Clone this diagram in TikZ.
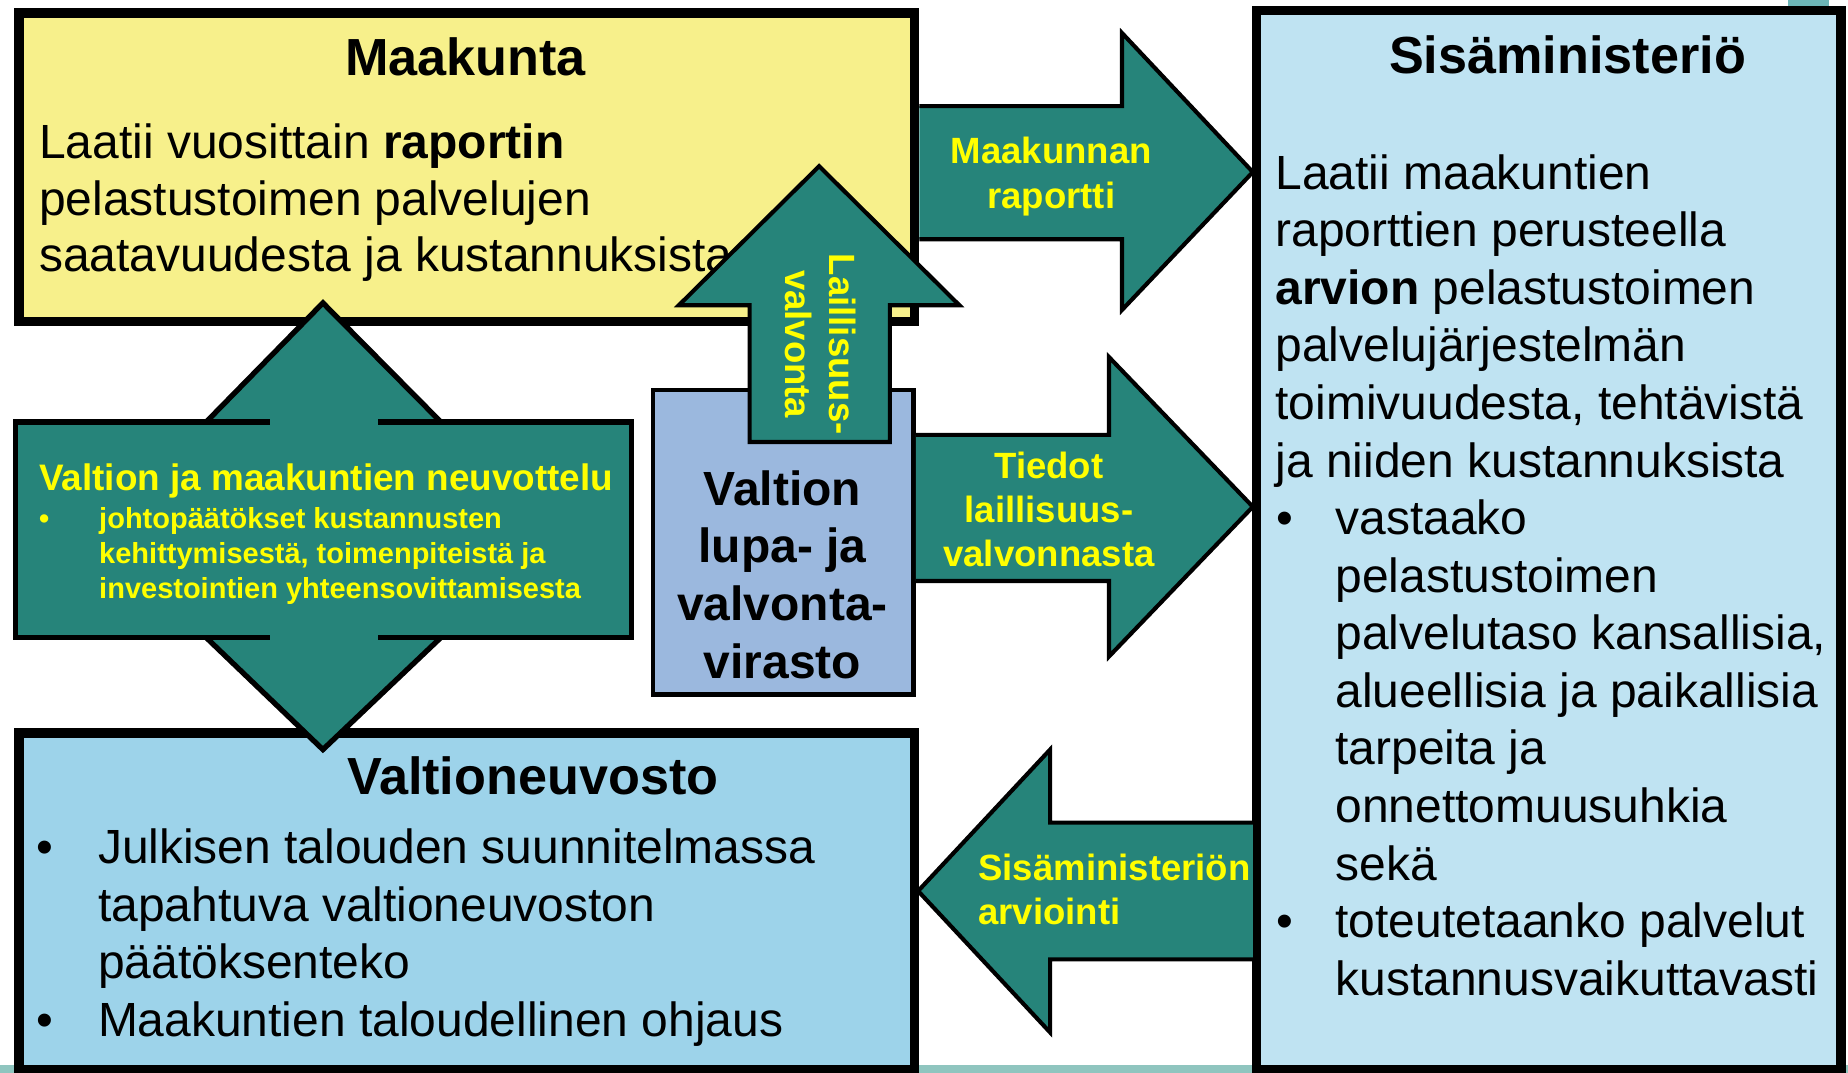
\documentclass[tikz,border=0pt]{standalone}
\usepackage{fontspec}
\setmainfont{Liberation Sans}
\definecolor{maak}{HTML}{F7F08B}
\definecolor{smc}{HTML}{BFE3F2}
\definecolor{vnc}{HTML}{9DD3EA}
\definecolor{lupac}{HTML}{9BB8DE}
\definecolor{tealc}{HTML}{26847A}
\definecolor{yelc}{HTML}{FFFF00}
\definecolor{stripc}{HTML}{8FC5BF}
\definecolor{cornerc}{HTML}{6DB6B8}
\tikzset{
  bigbox/.style={draw=black, line width=8pt},
  blockarrow/.style={fill=tealc, draw=black, line width=3.5pt, line join=miter},
  arrowtext/.style={text=yelc, inner sep=0pt, font={\bfseries\fontsize{31}{37.5}\selectfont}},
  titletext/.style={inner sep=0pt, font={\bfseries\fontsize{44.3}{52}\selectfont}},
  bodytext/.style={inner sep=0pt, align=left, font={\fontsize{40.7}{48.9}\selectfont}},
}
\begin{document}
\begin{tikzpicture}[x=1pt,y=-1pt]
\useasboundingbox (0,0) rectangle (1568,910);
\begin{scope}
\clip (0,0) rectangle (1568,910);
% background decorations
\fill[stripc] (0,904) rectangle (1568,912);
\fill[cornerc] (1517,-2) rectangle (1552,6);
% boxes
\draw[bigbox, fill=maak] (16,11) rectangle (776,273);
\draw[bigbox, fill=vnc] (16,622) rectangle (776,908);
\draw[bigbox, fill=smc] (1066,9) rectangle (1562,908);
\draw[line width=4pt, fill=lupac] (554,331) rectangle (775,589);

% Maakunta text (anchor = baseline of last line)
\node[titletext, anchor=base] (maaktitle) at (395,64) {Maakunta};
\node[bodytext, font={\fontsize{40.7}{48}\selectfont}, anchor=base west] (maakbody) at (33,230.5)
  {Laatii vuosittain \textbf{raportin}\\pelastustoimen palvelujen\\saatavuudesta ja kustannuksista};

% Sisaministerio text
\node[titletext, anchor=base] (smtitle) at (1330,62) {Sisäministeriö};
\node[bodytext, font={\fontsize{40.7}{48.86}\selectfont}, anchor=base west] (smbody) at (1082,844.5)
  {Laatii maakuntien\\raporttien perusteella\\\textbf{arvion} pelastustoimen\\palvelujärjestelmän\\toimivuudesta, tehtävistä\\ja niiden kustannuksista\\
   \makebox[51pt][l]{\hspace*{1pt}•}vastaako\\
   \hspace*{51pt}pelastustoimen\\
   \hspace*{51pt}palvelutaso kansallisia,\\
   \hspace*{51pt}alueellisia ja paikallisia\\
   \hspace*{51pt}tarpeita ja\\
   \hspace*{51pt}onnettomuusuhkia\\
   \hspace*{51pt}sekä\\
   \makebox[51pt][l]{\hspace*{1pt}•}toteutetaanko palvelut\\
   \hspace*{51pt}kustannusvaikuttavasti};

% Valtioneuvosto text
\node[titletext, anchor=base] (vntitle) at (452,674) {Valtioneuvosto};
\node[bodytext, font={\fontsize{40.7}{49}\selectfont}, anchor=base west] (vnbody) at (31,879.6)
  {\makebox[52pt][l]{•}Julkisen talouden suunnitelmassa\\
   \hspace*{52pt}tapahtuva valtioneuvoston\\
   \hspace*{52pt}päätöksenteko\\
   \makebox[52pt][l]{•}Maakuntien taloudellinen ohjaus};

% Lupa- ja valvontavirasto text
\node[inner sep=0pt, align=center, anchor=base, font={\bfseries\fontsize{40.7}{49}\selectfont}] (lupatext) at (664,575.6)
  {Valtion\\lupa- ja\\valvonta-\\virasto};

% Neuvottelu box with double arrow
\fill[tealc] (13,358) rectangle (536,541);
\fill[tealc] (175,358) -- (274,257) -- (374,358) -- cycle;
\fill[tealc] (175,541) -- (274,636) -- (374,541) -- cycle;
\begin{scope}[line width=4.5pt, line join=miter]
\draw (229,358) -- (13,358) -- (13,541) -- (229,541);
\draw (321,358) -- (536,358) -- (536,541) -- (321,541);
\draw (175,358) -- (274,257) -- (374,358);
\draw (175,541) -- (274,636) -- (374,541);
\end{scope}
\node[inner sep=0pt, anchor=base west, text=yelc, font={\bfseries\fontsize{31.3}{37}\selectfont}] (neuvtitle) at (33,416)
  {Valtion ja maakuntien neuvottelu};
\node[inner sep=0pt, anchor=base west, align=left, text=yelc, font={\bfseries\fontsize{24.6}{30}\selectfont}] (neuvbody) at (33,508)
  {\makebox[51pt][l]{•}johtopäätökset kustannusten\\
   \hspace*{51pt}kehittymisestä, toimenpiteistä ja\\
   \hspace*{51pt}investointien yhteensovittamisesta};

% Maakunnan raportti arrow
\fill[tealc] (780,90) -- (952,90) -- (952,28) -- (1063,146) -- (952,263) -- (952,203) -- (780,203) -- cycle;
\draw[blockarrow, fill=none] (780,90) -- (952,90) -- (952,28) -- (1063,146) -- (952,263) -- (952,203) -- (780,203);
\node[arrowtext, align=center, anchor=base] (raporttitext) at (892,176.5) {Maakunnan\\raportti};

% Tiedot laillisuusvalvonnasta arrow
\fill[tealc] (777,369) -- (941,369) -- (941,303) -- (1063,430) -- (941,557) -- (941,493) -- (777,493) -- cycle;
\draw[blockarrow, fill=none] (777,369) -- (941,369) -- (941,303) -- (1063,430) -- (941,557) -- (941,493) -- (777,493);
\node[arrowtext, align=center, anchor=base] (tiedottext) at (890,481) {Tiedot\\laillisuus-\\valvonnasta};

% Sisaministerion arviointi arrow
\fill[tealc] (1063,698) -- (891,698) -- (891,636) -- (779,756) -- (891,876) -- (891,814) -- (1063,814) -- cycle;
\draw[blockarrow, fill=none] (1063,698) -- (891,698) -- (891,636) -- (779,756) -- (891,876) -- (891,814) -- (1063,814);
\node[arrowtext, align=left, anchor=base west] (arviointitext) at (830,784.5) {Sisäministeriön\\arviointi};

% Laillisuusvalvonta up arrow
\draw[blockarrow] (636,375) -- (636,259) -- (576,259) -- (695,141) -- (814,259) -- (755,259) -- (755,375) -- cycle;
\node[arrowtext, align=center, rotate=-90] (laillisuustext) at (696,292) {Laillisuus-\\valvonta};
\end{scope}
\end{tikzpicture}
\end{document}
